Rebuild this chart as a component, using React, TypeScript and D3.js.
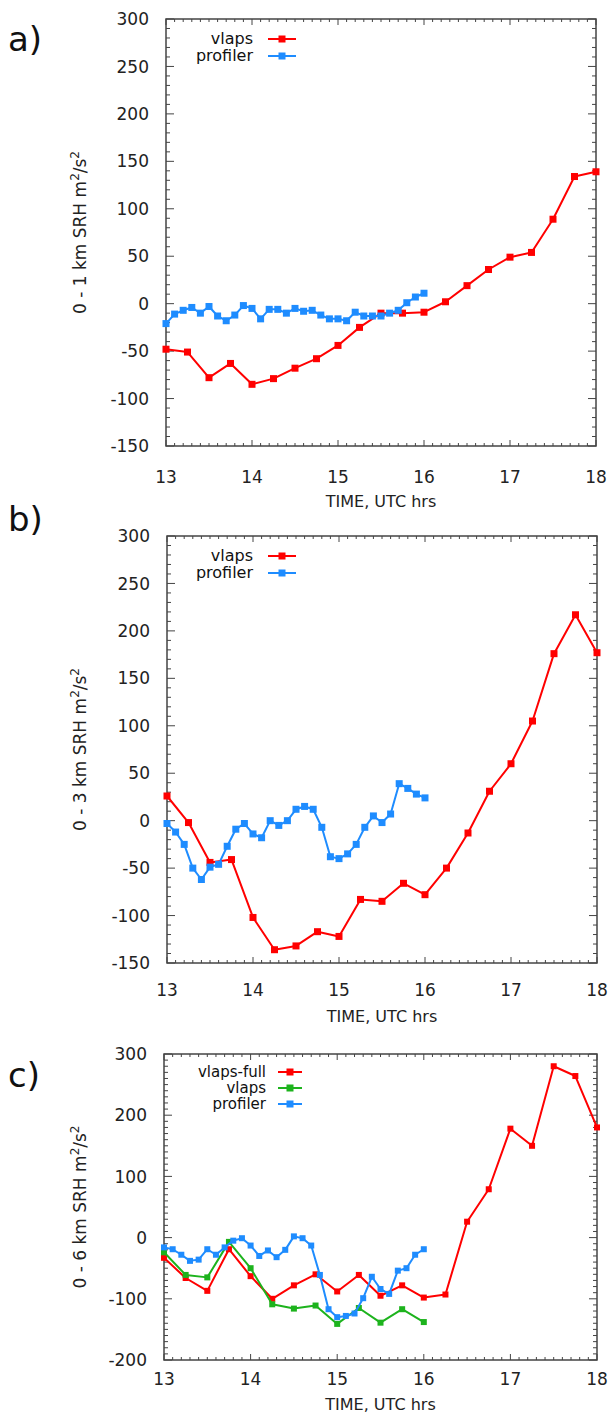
import React from "react";
import * as d3 from "d3";

// ---------- DATA ----------
const vlapsTimes = [13, 13.25, 13.5, 13.75, 14, 14.25, 14.5, 14.75, 15, 15.25, 15.5, 15.75, 16, 16.25, 16.5, 16.75, 17, 17.25, 17.5, 17.75, 18];
const vlapsShortTimes = [13, 13.25, 13.5, 13.75, 14, 14.25, 14.5, 14.75, 15, 15.25, 15.5, 15.75, 16];
const profilerTimes = [13.0, 13.1, 13.2, 13.3, 13.4, 13.5, 13.6, 13.7, 13.8, 13.9, 14.0, 14.1, 14.2, 14.3, 14.4, 14.5, 14.6, 14.7, 14.8, 14.9, 15.0, 15.1, 15.2, 15.3, 15.4, 15.5, 15.6, 15.7, 15.8, 15.9, 16.0];

const aVlaps = [-48, -51, -78, -63, -85, -79, -68, -58, -44, -25, -10, -10, -9, 2, 19, 36, 49, 54, 89, 134, 139];
const aProfiler = [-21, -11, -7, -4, -10, -3, -13, -18, -12, -2, -5, -16, -6, -6, -10, -5, -8, -7, -12, -16, -16, -18, -9, -13, -13, -13, -10, -7, 1, 7, 11];

const bVlaps = [26, -2, -44, -41, -102, -136, -132, -117, -122, -83, -85, -66, -78, -50, -13, 31, 60, 105, 176, 217, 177];
const bProfiler = [-3, -12, -25, -50, -62, -49, -46, -27, -9, -3, -14, -18, 0, -5, 0, 12, 15, 12, -7, -38, -40, -35, -25, -7, 5, -2, 7, 39, 34, 28, 24];

const cVlapsFull = [-33, -66, -87, -19, -63, -100, -78, -60, -88, -61, -95, -78, -98, -93, 26, 79, 178, 150, 280, 264, 180];
const cVlaps = [-24, -61, -65, -7, -50, -109, -116, -111, -141, -115, -139, -117, -138];
const cProfiler = [-16, -19, -28, -38, -36, -19, -28, -16, -5, -1, -13, -30, -21, -32, -20, 2, -1, -13, -61, -117, -130, -128, -124, -99, -64, -84, -92, -54, -50, -28, -19];

const xTickLabels = [13, 14, 15, 16, 17, 18];
const yTicksAB = [300, 250, 200, 150, 100, 50, 0, -50, -100, -150];
const yTicksC = [300, 200, 100, 0, -100, -200];

// ---------- STYLE ----------
const RED = "#ff0000";
const BLUE = "#1e8cff";
const GREEN = "#1db31d";
const FRAME = "#444";
const FONT = "DejaVu Sans, Verdana, sans-serif";

type Series = { name: string; color: string; times: number[]; values: number[] };

type Cfg = {
  label: string;
  left: number; right: number; top: number; bottom: number;
  yMin: number; yMax: number; yMinorStep: number; yMajorStep: number;
  yTicks: number[];
  title: string;
  legendTextX: number; legendLineX0: number; legendLineX1: number; legendY0: number; legendFont: number; legendGap: number;
  tickLabelY: number; timeLabelY: number; labelY: number; marker: number;
};

function Panel({ cfg, series }: { cfg: Cfg; series: Series[] }) {
  const x = d3.scaleLinear().domain([13, 18]).range([cfg.left, cfg.right]);
  const y = d3.scaleLinear().domain([cfg.yMin, cfg.yMax]).range([cfg.bottom, cfg.top]);
  const line = d3.line<[number, number]>().x((d) => x(d[0])).y((d) => y(d[1]));

  const xMinor = d3.range(130, 181, 1).map((v) => v / 10);
  const yMinor = d3.range(cfg.yMin, cfg.yMax + 0.001, cfg.yMinorStep);

  const ticks: React.ReactNode[] = [];
  xMinor.forEach((v, i) => {
    const major = Math.abs(v - Math.round(v)) < 1e-6;
    const len = major ? 6 : 3;
    const xx = x(v);
    ticks.push(<line key={"xb" + i} x1={xx} x2={xx} y1={cfg.bottom} y2={cfg.bottom - len} stroke={FRAME} strokeWidth={1} />);
    ticks.push(<line key={"xt" + i} x1={xx} x2={xx} y1={cfg.top} y2={cfg.top + len} stroke={FRAME} strokeWidth={1} />);
  });
  yMinor.forEach((v, i) => {
    const major = Math.abs(v / cfg.yMajorStep - Math.round(v / cfg.yMajorStep)) < 1e-6;
    const len = major ? 8 : 4;
    const yy = y(v);
    ticks.push(<line key={"yl" + i} x1={cfg.left} x2={cfg.left + len} y1={yy} y2={yy} stroke={FRAME} strokeWidth={1} />);
    ticks.push(<line key={"yr" + i} x1={cfg.right} x2={cfg.right - len} y1={yy} y2={yy} stroke={FRAME} strokeWidth={1} />);
  });

  const ms = cfg.marker;
  const midY = (cfg.top + cfg.bottom) / 2;

  return (
    <g>
      <text x={8} y={cfg.labelY} fontSize={34} fontFamily={FONT} fill="#111">{cfg.label}</text>
      <rect x={cfg.left} y={cfg.top} width={cfg.right - cfg.left} height={cfg.bottom - cfg.top} fill="none" stroke={FRAME} strokeWidth={1.5} />
      {ticks}
      {cfg.yTicks.map((v) => (
        <text key={"yt" + v} x={cfg.left - 17} y={y(v)} dy="0.36em" textAnchor="end" fontSize={17} fontFamily={FONT} fill="#222">{v}</text>
      ))}
      {xTickLabels.map((v) => (
        <text key={"xt" + v} x={x(v)} y={cfg.tickLabelY} textAnchor="middle" fontSize={17} fontFamily={FONT} fill="#222">{v}</text>
      ))}
      <text x={(cfg.left + cfg.right) / 2} y={cfg.timeLabelY} textAnchor="middle" fontSize={16} fontFamily={FONT} fill="#222">TIME, UTC hrs</text>
      <text transform={`translate(86,${midY}) rotate(-90)`} textAnchor="middle" fontSize={17} fontFamily={FONT} fill="#222">
        {cfg.title}
        <tspan> m</tspan>
        <tspan fontSize={12} dy={-7}>2</tspan>
        <tspan dy={7}>/s</tspan>
        <tspan fontSize={12} dy={-7}>2</tspan>
      </text>
      {series.map((s) => {
        const pts = s.times.map((t, i) => [t, s.values[i]] as [number, number]);
        return (
          <g key={s.name}>
            <path d={line(pts) || ""} fill="none" stroke={s.color} strokeWidth={2} strokeLinejoin="round" />
            {pts.map((p, i) => (
              <rect key={i} x={x(p[0]) - ms / 2} y={y(p[1]) - ms / 2} width={ms} height={ms} fill={s.color} />
            ))}
          </g>
        );
      })}
      {series.map((s, i) => {
        const ly = cfg.legendY0 + i * cfg.legendGap;
        return (
          <g key={"lg" + s.name}>
            <text x={cfg.legendTextX} y={ly} dy="0.33em" textAnchor="end" fontSize={cfg.legendFont} fontFamily={FONT} fill="#111">{s.name}</text>
            <line x1={cfg.legendLineX0} x2={cfg.legendLineX1} y1={ly} y2={ly} stroke={s.color} strokeWidth={2} />
            <rect x={(cfg.legendLineX0 + cfg.legendLineX1) / 2 - 3.5} y={ly - 3.5} width={7} height={7} fill={s.color} />
          </g>
        );
      })}
    </g>
  );
}

const cfgA: Cfg = {
  label: "a)", left: 166, right: 596, top: 19, bottom: 446,
  yMin: -150, yMax: 300, yMinorStep: 10, yMajorStep: 50, yTicks: yTicksAB,
  title: "0 - 1 km SRH",
  legendTextX: 253, legendLineX0: 268, legendLineX1: 296, legendY0: 39, legendFont: 16, legendGap: 17,
  tickLabelY: 483, timeLabelY: 507, labelY: 51, marker: 7,
};
const cfgB: Cfg = {
  label: "b)", left: 167, right: 597, top: 536, bottom: 963,
  yMin: -150, yMax: 300, yMinorStep: 10, yMajorStep: 50, yTicks: yTicksAB,
  title: "0 - 3 km SRH",
  legendTextX: 253, legendLineX0: 268, legendLineX1: 296, legendY0: 556, legendFont: 16, legendGap: 17,
  tickLabelY: 996, timeLabelY: 1022, labelY: 531, marker: 7,
};
const cfgC: Cfg = {
  label: "c)", left: 164, right: 597, top: 1054, bottom: 1360,
  yMin: -200, yMax: 300, yMinorStep: 10, yMajorStep: 100, yTicks: yTicksC,
  title: "0 - 6 km SRH",
  legendTextX: 266, legendLineX0: 278, legendLineX1: 302, legendY0: 1072, legendFont: 15, legendGap: 16,
  tickLabelY: 1385, timeLabelY: 1410, labelY: 1087, marker: 6,
};

export default function App() {
  return (
    <svg width={610} height={1417} style={{ position: "absolute", left: 0, top: 0, background: "#fff" }}>
      <rect x={0} y={0} width={610} height={1417} fill="#fff" />
      <Panel cfg={cfgA} series={[
        { name: "vlaps", color: RED, times: vlapsTimes, values: aVlaps },
        { name: "profiler", color: BLUE, times: profilerTimes, values: aProfiler },
      ]} />
      <Panel cfg={cfgB} series={[
        { name: "vlaps", color: RED, times: vlapsTimes, values: bVlaps },
        { name: "profiler", color: BLUE, times: profilerTimes, values: bProfiler },
      ]} />
      <Panel cfg={cfgC} series={[
        { name: "vlaps-full", color: RED, times: vlapsTimes, values: cVlapsFull },
        { name: "vlaps", color: GREEN, times: vlapsShortTimes, values: cVlaps },
        { name: "profiler", color: BLUE, times: profilerTimes, values: cProfiler },
      ]} />
    </svg>
  );
}
